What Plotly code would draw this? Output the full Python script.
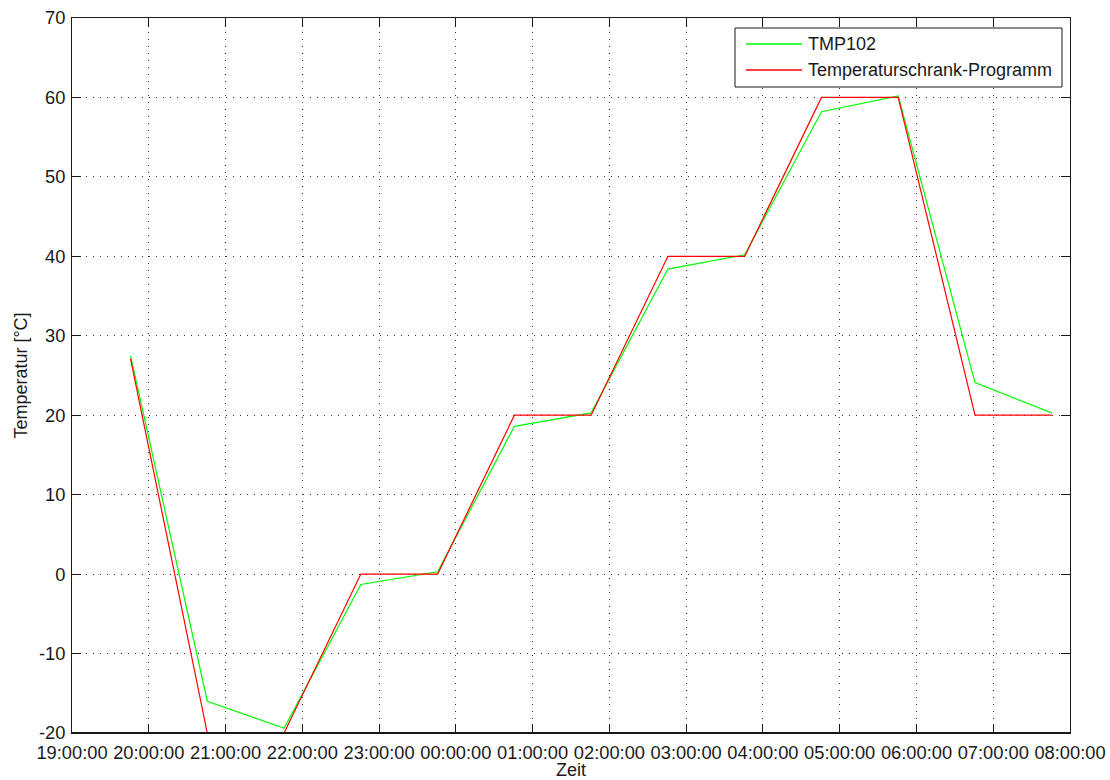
import datetime as dt
import plotly.graph_objects as go

# Measurement times (evening of day 1 through morning of day 2)
time_labels = ["19:45:45", "20:45:45", "21:45:45", "22:45:45", "23:45:45",
               "00:45:45", "01:45:45", "02:45:45", "03:45:45", "04:45:45",
               "05:45:45", "06:45:45", "07:45:45"]

# Sensor reading (TMP102) and climate chamber set program, in °C
tmp102 = [27.5, -16.0, -19.4, -1.3, 0.3, 18.6, 20.3, 38.4, 40.2, 58.2, 60.2, 24.1, 20.3]
programm = [27.1, -20.0, -20.0, 0.0, 0.0, 20.0, 20.0, 40.0, 40.0, 60.0, 60.0, 20.0, 20.0]

series_names = ["TMP102", "Temperaturschrank-Programm"]
series_colors = ["#00ff00", "#ff0000"]

y_ticks = [-20, -10, 0, 10, 20, 30, 40, 50, 60, 70]
y_tick_text = [str(v) for v in y_ticks]

day1 = dt.date(2013, 1, 14)

times = []
prev = None
for lab in time_labels:
    t = dt.datetime.strptime(lab, "%H:%M:%S").time()
    cur = dt.datetime.combine(day1, t)
    while prev is not None and cur < prev:
        cur += dt.timedelta(days=1)
    times.append(cur)
    prev = cur

x_start = dt.datetime.combine(day1, dt.time(19, 0, 0))
x_end = x_start + dt.timedelta(hours=13)

FONT = "Liberation Sans, Arial, sans-serif"
FS = 18
TICK_FS = 18.3
INK = "#1a1a1a"

fig = go.Figure()
for name, vals, col in zip(series_names, [tmp102, programm], series_colors):
    fig.add_trace(go.Scatter(x=times, y=vals, mode="lines", name=name,
                             line=dict(color=col, width=1.2), showlegend=False))

axis_common = dict(
    showline=True, linecolor=INK, linewidth=1, mirror="ticks",
    ticks="inside", ticklen=9, tickcolor=INK, tickwidth=1,
    showgrid=True, gridcolor="#333333", gridwidth=1, griddash="1px,6px",
    zeroline=False,
    tickfont=dict(family=FONT, size=TICK_FS, color=INK),
)

fig.update_xaxes(
    type="date", range=[x_start, x_end], dtick=3600000, tick0=x_start,
    tickformat="%H:%M:%S", tickangle=0,
    title=dict(text="Zeit", font=dict(family=FONT, size=FS, color=INK), standoff=2),
    ticklabelstandoff=3,
    **axis_common,
)
fig.update_yaxes(
    range=[-20, 70], tickvals=y_ticks, ticktext=y_tick_text,
    title=dict(text="Temperatur [°C]", font=dict(family=FONT, size=FS, color=INK), standoff=6),
    ticklabelstandoff=2,
    **axis_common,
)

# Plot-area box in pixels, used to place the legend
L, R, T, B = 72, 1070, 18, 733
W, H = R - L, B - T


def px(xp):
    return (xp - L) / W


def py(yp):
    return (B - yp) / H


shapes = [
    # bottom frame edge drawn over the traces so lines at the lower limit are hidden
    dict(type="line", xref="paper", yref="paper", x0=0, x1=1, y0=0, y1=0,
         line=dict(color=INK, width=2), layer="above"),
    # legend box
    dict(type="rect", xref="paper", yref="paper",
         x0=px(735), x1=px(1062), y0=py(87), y1=py(28),
         line=dict(color=INK, width=1), fillcolor="white", layer="above"),
]
annotations = []
for i, (name, col) in enumerate(zip(series_names, series_colors)):
    yy = 44 + i * 26
    shapes.append(dict(type="line", xref="paper", yref="paper",
                       x0=px(746), x1=px(802), y0=py(yy), y1=py(yy),
                       line=dict(color=col, width=1.3), layer="above"))
    annotations.append(dict(xref="paper", yref="paper", x=px(806), y=py(yy),
                            xanchor="left", yanchor="middle", text=name,
                            showarrow=False,
                            font=dict(family=FONT, size=FS, color=INK)))

fig.update_layout(
    width=1110, height=780,
    margin=dict(l=L, r=1110 - R, t=T, b=780 - B, autoexpand=False),
    paper_bgcolor="white", plot_bgcolor="white",
    shapes=shapes, annotations=annotations,
    showlegend=False,
)

fig.write_html("out.html")
